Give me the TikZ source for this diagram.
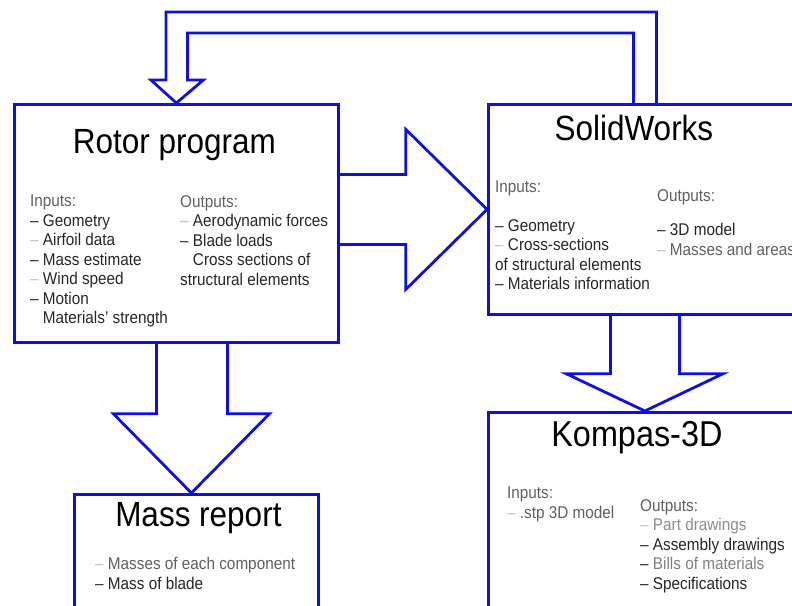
\documentclass[tikz,border=0pt]{standalone}
\usepackage{fontspec}
\setmainfont{Liberation Sans}[FakeStretch=0.9]
\usetikzlibrary{positioning,calc}
\definecolor{flowblue}{RGB}{15,15,225}
\definecolor{softgray}{RGB}{95,95,95}
\newcommand{\fdash}{\textcolor{black!25}{--}}

\begin{document}
\begin{tikzpicture}[
        x=1pt, y=-1pt,
        box/.style={rectangle, draw=flowblue, line width=2.8pt, anchor=north west, inner sep=0pt},
        bigarrow/.style={draw=flowblue, line width=2.8pt, line join=miter},
        title/.style={font=\fontsize{35}{40}\selectfont, inner sep=0pt, text=black},
        info/.style={font=\fontsize{17}{19.5}\selectfont, align=left, anchor=north west, inner sep=0pt, text=black!85}
    ]
        \useasboundingbox (0,0) rectangle (792,605);

        % Boxes
        \node[box, minimum width=324pt, minimum height=238pt] (rotor) at (13,103) {};
        \node[box, minimum width=313pt, minimum height=210pt] (solid) at (487,103) {};
        \node[box, minimum width=313pt, minimum height=220pt] (kompas) at (487,411) {};
        \node[box, minimum width=244pt, minimum height=130pt] (mass) at (73,493) {};

        % Rotor program -> SolidWorks
        \draw[bigarrow] ($(rotor.east |- solid.west)+(0,-35)$) -- ++(66,0) -- ++(0,-45) -- (solid.west)
            -- ($(rotor.east |- solid.west)+(66,80)$) -- ++(0,-45) -- ($(rotor.east |- solid.west)+(0,35)$);

        % Rotor program -> Mass report
        \coordinate (masstip) at ($(rotor.south)+(15,0)$);
        \draw[bigarrow] ($(rotor.south)+(-20,0)$) -- ++(0,70) -- ++(-43,0) -- (masstip |- mass.north)
            -- ($(rotor.south)+(93,70)$) -- ++(-42,0) -- ($(rotor.south)+(51,0)$);

        % SolidWorks -> Kompas-3D
        \draw[bigarrow] ($(solid.south)+(-34.5,0)$) -- ++(0,58) -- ++(-44,0) -- (kompas.north)
            -- ($(solid.south)+(78,58)$) -- ++(-43.5,0) -- ($(solid.south)+(34.5,0)$);

        % SolidWorks -> Rotor program (feedback)
        \draw[bigarrow] ($(solid.north)+(11.5,0)$) |- ($(rotor.north)+(-10.5,-91)$) -- ($(rotor.north)+(-10.5,-23)$)
            -- ++(-15,0) -- (rotor.north) -- ($(rotor.north)+(27,-23)$) -- ++(-16,0)
            |- ($(solid.north)+(-11.5,-70)$) -- ($(solid.north)+(-11.5,0)$);

        % Titles
        \node[title, below=26pt of rotor.north, xshift=-2pt] (rotortitle) {Rotor program};
        \node[title, below=12pt of solid.north, xshift=-11pt] (solidtitle) {SolidWorks};
        \node[title, font=\fontsize{36}{40}\selectfont, below=10pt of kompas.north, xshift=-8pt] (kompastitle) {Kompas-3D};
        \node[title, below=9pt of mass.north, xshift=2pt] (masstitle) {Mass report};

        % Rotor program lists
        \node[info, below right=92pt and 17pt of rotor.north west] (rotorin) {
            \textcolor{softgray}{Inputs:}\\
            -- Geometry\\
            \fdash\ Airfoil data\\
            -- Mass estimate\\
            \fdash\ Wind speed\\
            -- Motion\\
            \phantom{--} Materials' strength
        };
        \node[info, below right=92pt and 167pt of rotor.north west] (rotorout) {
            \textcolor{softgray}{Outputs:}\\
            \fdash\ Aerodynamic forces\\
            -- Blade loads\\
            \phantom{--} Cross sections of\\
            structural elements
        };

        % SolidWorks lists
        \node[info, below right=78pt and 8pt of solid.north west] (solidin) {
            \textcolor{softgray}{Inputs:}\\[19pt]
            -- Geometry\\
            \fdash\ Cross-sections\\
            of structural elements\\
            -- Materials information
        };
        \node[info, below right=86pt and 170pt of solid.north west] (solidout) {
            \textcolor{softgray}{Outputs:}\\[15pt]
            -- 3D model\\
            \fdash\ \textcolor{softgray}{Masses and areas}
        };

        % Kompas-3D lists
        \node[info, below right=76pt and 20pt of kompas.north west] (kompasin) {
            \textcolor{softgray}{Inputs:}\\
            \fdash\ \textcolor{softgray}{.stp 3D model}
        };
        \node[info, below right=88pt and 153pt of kompas.north west] (kompasout) {
            \textcolor{softgray}{Outputs:}\\
            \fdash\ \textcolor{black!45}{Part drawings}\\
            -- Assembly drawings\\
            -- \textcolor{black!50}{Bills of materials}\\
            -- Specifications
        };

        % Mass report list
        \node[info, below right=64pt and 22pt of mass.north west] (massinfo) {
            \fdash\ \textcolor{softgray}{Masses of each component}\\
            -- Mass of blade
        };

    \end{tikzpicture}
\end{document}
